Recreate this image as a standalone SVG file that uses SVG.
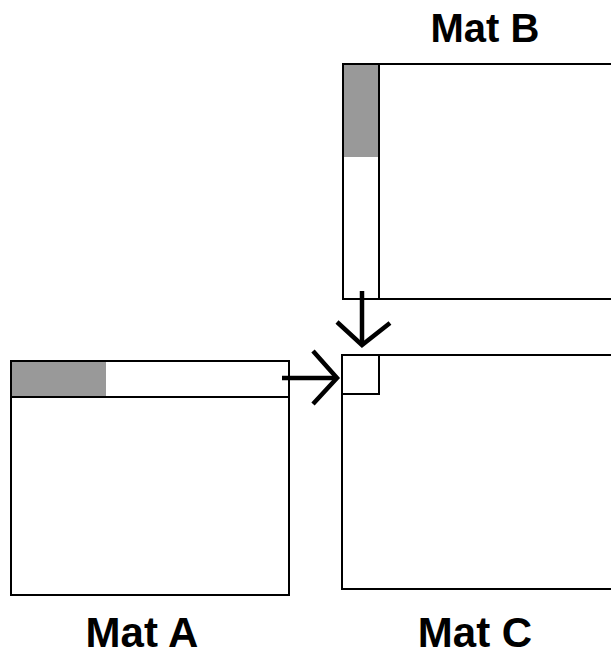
<svg xmlns="http://www.w3.org/2000/svg" width="611" height="657" viewBox="0 0 611 657">
<style>
.box{fill:#fff;stroke:#000;stroke-width:2}
.ln{fill:none;stroke:#000;stroke-width:2}
.sh{fill:#999;stroke:none}
.ar{fill:none;stroke:#000;stroke-width:4.5}
.lbl{font-family:"Liberation Sans",Arial,sans-serif;font-weight:bold;font-size:40px;text-anchor:middle;fill:#000}
.lb2{font-size:42px}
</style>
<rect width="611" height="657" fill="#fff"/>
<g id="matB">
<rect class="box" x="343" y="64" width="290" height="235"/>
<rect class="sh" x="344" y="65" width="35" height="92"/>
<line class="ln" x1="379" y1="64" x2="379" y2="299"/>
<text class="lbl" x="485" y="42">Mat B</text>
</g>
<g id="matA">
<rect class="box" x="11" y="361" width="278" height="234"/>
<rect class="sh" x="12" y="362" width="94" height="35"/>
<line class="ln" x1="11" y1="397" x2="289" y2="397"/>
<text class="lbl lb2" x="142" y="647">Mat A</text>
</g>
<g id="matC">
<rect class="box" x="342" y="355" width="290" height="234"/>
<rect class="ln" x="342" y="355" width="37" height="39"/>
<text class="lbl lb2" x="475" y="647">Mat C</text>
</g>
<g id="connectors">
<line class="ar" x1="362" y1="291" x2="362" y2="343"/>
<polyline class="ar" points="337,322 362,345 390,323"/>
<line class="ar" x1="282" y1="378" x2="335" y2="378"/>
<polyline class="ar" points="313,351 337,378 313,404"/>
</g>
</svg>
